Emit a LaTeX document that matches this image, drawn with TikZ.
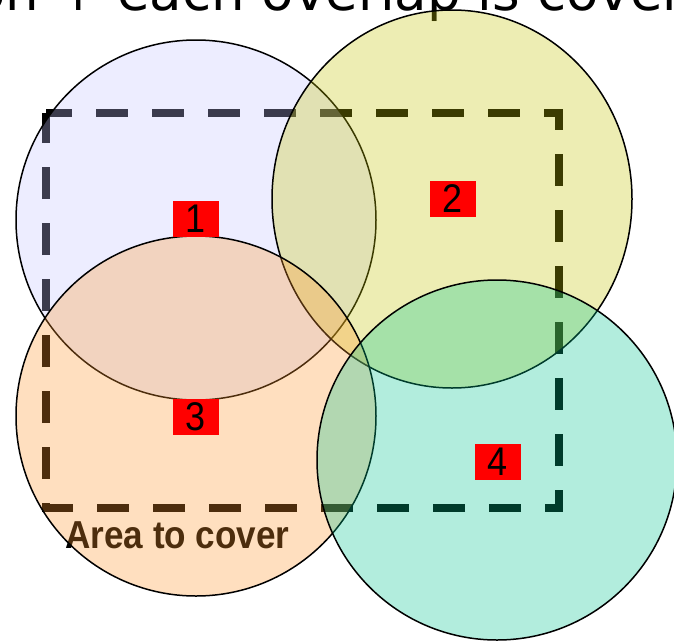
\documentclass[tikz,border=0pt]{standalone}
\usepackage{fontspec}
\setmainfont{Liberation Sans}
\newfontfamily\topfont{DejaVu Sans}
\usetikzlibrary{shapes.geometric}
\definecolor{cA}{RGB}{198,198,255}
\definecolor{cB}{RGB}{198,198,5}
\definecolor{cC}{RGB}{255,152,45}
\definecolor{cD}{RGB}{0,198,145}
\tikzset{
  disc/.style={circle, inner sep=0pt, minimum size=360pt, draw=black, line width=1.5pt, fill opacity=0.3, draw opacity=1},
  tag/.style={fill=red, minimum width=46pt, minimum height=36pt, inner sep=0pt, font=\fontsize{40}{40}\selectfont, text=black},
  area/.style={draw=black, line width=8pt, dash pattern=on 32pt off 24pt, dash phase=6pt}
}
\begin{document}
\begin{tikzpicture}[x=1pt,y=-1pt]
\clip (0,0) rectangle (674,640);
\fill[white] (0,0) rectangle (674,640);
% area to cover
\coordinate (r1) at (46,113);
\coordinate (r2) at (559,113);
\coordinate (r3) at (559,508);
\coordinate (r4) at (46,508);
\draw[area] (r1) -- (r2) -- (r3) -- (r4) -- cycle;
\node[anchor=base west, font=\topfont\fontsize{53}{53}\selectfont, inner sep=0pt] (title) at (-27,10) {on + each overlap is covered};
\node[anchor=base, font=\bfseries\fontsize{39}{39}\selectfont, inner sep=0pt] (lbl) at (177.5,548) {\scalebox{0.9}[1]{Area to cover}};
% circles
\node[disc, fill=cA] (c1) at (196,220) {};
\node[disc, ellipse, minimum width=360pt, minimum height=378pt, fill=cB] (c2) at (452,199) {};
\node[disc, fill=cC] (c3) at (196,416) {};
\node[disc, fill=cD] (c4) at (497,460) {};
% labels
\node[tag] (l1) at (196,219) {\scalebox{0.9}[1]{1}};
\node[tag] (l2) at (452.5,199) {\scalebox{0.9}[1]{2}};
\node[tag] (l3) at (196,417) {\scalebox{0.9}[1]{3}};
\node[tag] (l4) at (497.5,462) {\scalebox{0.9}[1]{4}};
\end{tikzpicture}
\end{document}
